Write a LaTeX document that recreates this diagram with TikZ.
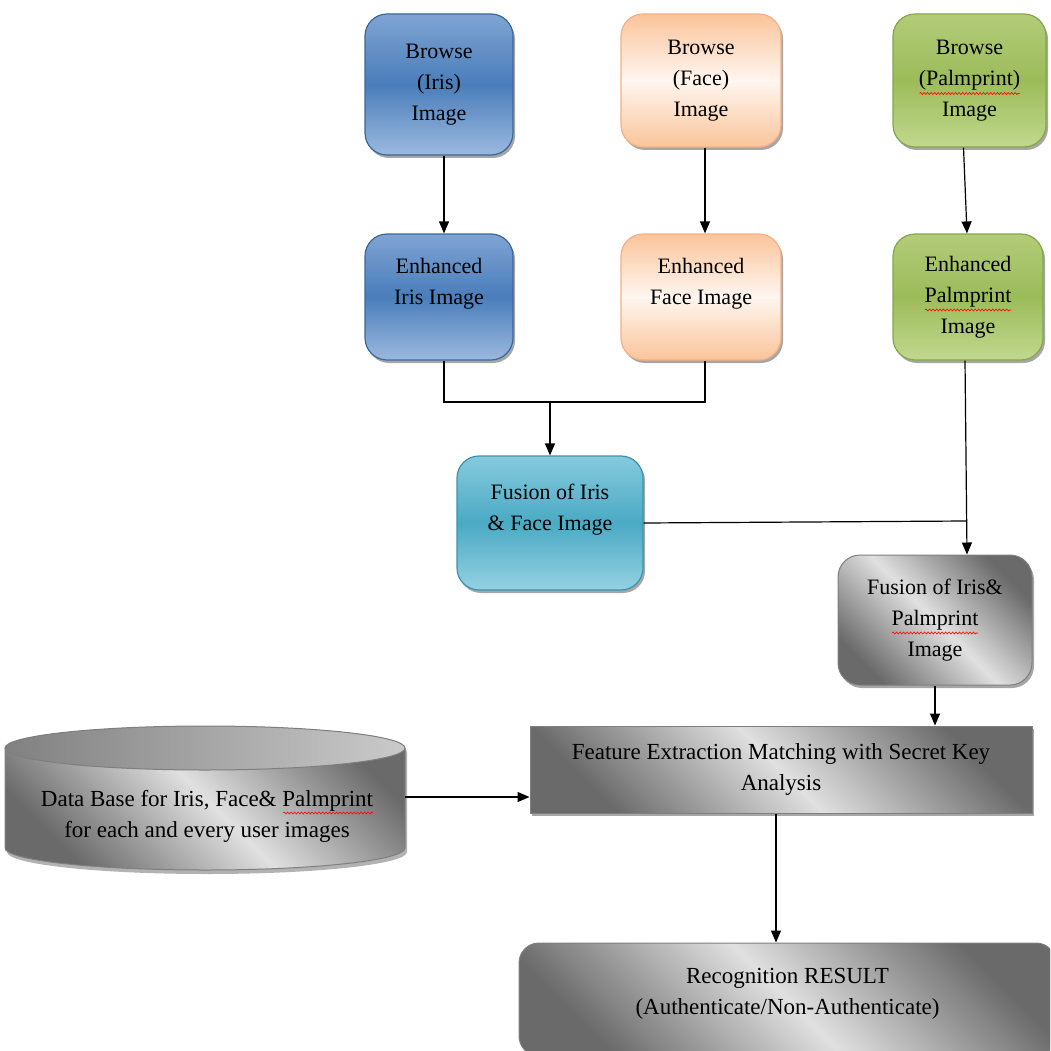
\documentclass[tikz,border=0pt]{standalone}
\usepackage{fontspec}
\setmainfont{Liberation Serif}
\usetikzlibrary{shadows,arrows.meta,calc,decorations.pathmorphing}
\definecolor{bluetop}{HTML}{7FA4D3}
\definecolor{bluemid}{HTML}{4A7DBA}
\definecolor{bluebot}{HTML}{9BB9DF}
\definecolor{blueline}{HTML}{3C6799}
\definecolor{peachedge}{HTML}{FAC49A}
\definecolor{peachmid}{HTML}{FFF6F0}
\definecolor{peachline}{HTML}{F4B183}
\definecolor{greentop}{HTML}{B2CC78}
\definecolor{greenmid}{HTML}{9CBC5A}
\definecolor{greenbot}{HTML}{C0D88E}
\definecolor{greenline}{HTML}{86A64A}
\definecolor{tealtop}{HTML}{86CADD}
\definecolor{tealmid}{HTML}{4AAAC4}
\definecolor{tealbot}{HTML}{95D1E2}
\definecolor{tealline}{HTML}{3A93AB}
\definecolor{graydark}{HTML}{6A6A6A}
\definecolor{graylight}{HTML}{E0E0E0}
\definecolor{grayline}{HTML}{7F7F7F}
\tikzset{
  box/.style={rounded corners=22pt, draw, line width=1.2pt, align=center,
    font=\fontsize{22}{31}\selectfont, inner sep=0pt,
    drop shadow={shadow xshift=2pt, shadow yshift=-3pt, fill=black, opacity=0.35}},
  bluebox/.style={box, draw=blueline, top color=bluetop, bottom color=bluebot, middle color=bluemid},
  peachbox/.style={box, draw=peachline, top color=peachedge, bottom color=peachedge, middle color=peachmid},
  greenbox/.style={box, draw=greenline, top color=greentop, bottom color=greenbot, middle color=greenmid},
  tealbox/.style={box, draw=tealline, top color=tealtop, bottom color=tealbot, middle color=tealmid},
  graybox/.style={box, draw=grayline, line width=1pt, top color=graydark, bottom color=graydark, middle color=graylight, shading angle=-45},
  bigtext/.style={font=\fontsize{23}{31}\selectfont, align=center},
  arr/.style={line width=1.2pt, -{Triangle[length=12pt,width=10pt]}},
  ln/.style={line width=1.2pt},
  wave/.style={red, line width=0.6pt, decorate, decoration={snake, amplitude=1pt, segment length=3.5pt}},
}
\begin{document}
\begin{tikzpicture}[x=1pt,y=-1pt]
\useasboundingbox (0,0) rectangle (1050,1051);
\clip (0,0) rectangle (1050,1051);
% top row
\node[bluebox, minimum width=148pt, minimum height=141pt] (bi) at (439,84.5) {Browse\\(Iris)\\Image};
\node[peachbox, minimum width=160pt, minimum height=133pt] (bf) at (701,80.5) {Browse\\(Face)\\Image};
\node[greenbox, minimum width=153pt, minimum height=133pt] (bp) at (969.5,80.5) {Browse\\(Palmprint)\\Image};
% second row
\node[bluebox, minimum width=148pt, minimum height=126pt] (ei) at (439,297) {Enhanced\\Iris Image\\\mbox{}};
\node[peachbox, minimum width=160pt, minimum height=126pt] (ef) at (701,297) {Enhanced\\Face Image\\\mbox{}};
\node[greenbox, minimum width=150pt, minimum height=126pt] (ep) at (968,297) {Enhanced\\Palmprint\\Image};
% fusion
\node[tealbox, minimum width=186pt, minimum height=134pt] (ff) at (550,523) {Fusion of Iris\\\& Face Image\\\mbox{}};
\node[graybox, minimum width=194pt, minimum height=130pt] (fp) at (935,620) {Fusion of Iris\&\\Palmprint\\Image};
% feature extraction
\node[graybox, rounded corners=0pt, bigtext, minimum width=502pt, minimum height=87pt] (fe) at (781,769.5) {Feature Extraction Matching with Secret Key\\Analysis};
% database cylinder
\shade[top color=graydark, bottom color=graydark, middle color=graylight, shading angle=-45, drop shadow={shadow xshift=2pt, shadow yshift=-4pt, fill=black, opacity=0.3}]
  (5,748) -- (5,848) arc[start angle=180, end angle=360, x radius=200pt, y radius=22pt] -- (405,748)
  arc[start angle=0, end angle=180, x radius=200pt, y radius=22pt] -- cycle;
\draw[grayline, line width=1pt]
  (5,748) -- (5,848) arc[start angle=180, end angle=360, x radius=200pt, y radius=22pt] -- (405,748);
\draw[grayline, line width=1pt, left color=graydark!85, right color=graylight!90!black] (205,748) ellipse[x radius=200pt, y radius=22pt];
\node[inner sep=0pt, minimum width=400pt, minimum height=142pt] (db) at (205,797) {};
\node[bigtext] (dbt) at (207,816) {Data Base for Iris, Face\& Palmprint\\for each and every user images};
% result
\node[graybox, bigtext, rounded corners=20pt, minimum width=537pt, minimum height=113pt] (rr) at (787.5,999.5) {Recognition RESULT\\(Authenticate/Non-Authenticate)\\[-14pt]\mbox{}};
% spell-check waves
\draw[wave] ($(bp.center)+(-50,13)$) -- ($(bp.center)+(50,13)$);
\draw[wave] ($(ep.center)+(-43,13)$) -- ($(ep.center)+(43,13)$);
\draw[wave] ($(fp.center)+(-43,13)$) -- ($(fp.center)+(43,13)$);
\draw[wave] ($(dbt.center)+(76,-3)$) -- ($(dbt.center)+(166,-3)$);
% connectors
\draw[arr] ([xshift=5]bi.south) -- ([xshift=5]ei.north);
\draw[arr] ([xshift=4]bf.south) -- ([xshift=4]ef.north);
\draw[arr] ([xshift=-6]bp.south) -- ([xshift=-1]ep.north);
\coordinate (j1) at (550,402);
\draw[ln] ([xshift=5]ei.south) |- (j1) -| ([xshift=4]ef.south);
\draw[arr] (j1) -- (ff.north);
\draw[arr] ([xshift=-3]ep.south) -- ([xshift=32]fp.north);
\coordinate (j2) at (966,521);
\draw[ln] (ff.east) -- (j2);
\draw[arr] (fp.south) -- (fp.south |- fe.north);
\draw[arr] (db.east) -- (db.east -| fe.west);
\draw[arr] ([xshift=-5]fe.south) -- ([xshift=-5]fe.south |- rr.north);
\end{tikzpicture}
\end{document}
